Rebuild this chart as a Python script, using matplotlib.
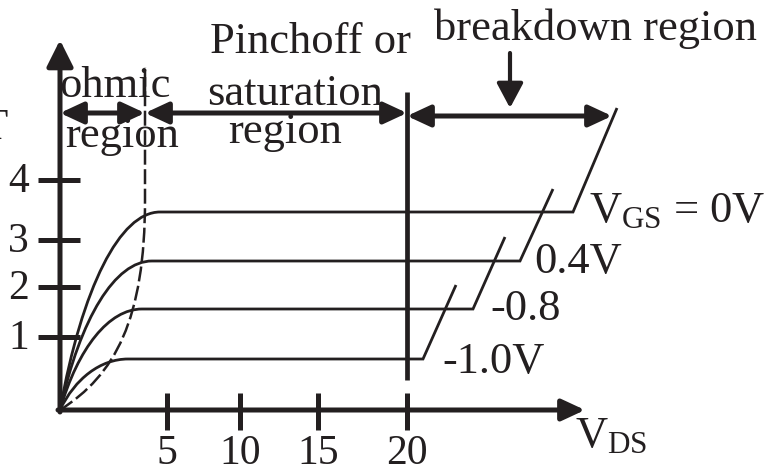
import matplotlib
matplotlib.use('Agg')
import matplotlib.pyplot as plt
from matplotlib.path import Path
from matplotlib.patches import PathPatch, FancyArrowPatch, ArrowStyle

plt.rcParams['font.family'] = 'Liberation Serif'
plt.rcParams['mathtext.fontset'] = 'custom'
plt.rcParams['mathtext.rm'] = 'Liberation Serif'
plt.rcParams['mathtext.it'] = 'Liberation Serif:italic'

INK = '#231f20'

# sketch units: origin of the I-V axes at (0, 0)
vds_ticks = [107, 180, 258, 347]
vds_labels = ['5', '10', '15', '20']
id_ticks = [73, 123, 170, 230]
id_labels = ['1', '2', '3', '4']

vgs_labels = [r'$\mathrm{V_{GS}}$ = 0V', '0.4V', '-0.8', '-1.0V']
sat_level = [198, 149, 101, 51]
knee_x = [100, 92, 82, 68]
breakdown_x = [513, 460, 413, 363]
breakdown_top = [(557, 302), (493, 221), (445, 173), (396, 125)]
label_pos = [(529, 188), (474, 137), (430, 90), (382, 37)]

pinchoff_x = 347
ohmic_edge = [(0, 0), (55, 35), (85, 90), (85, 210), (85, 343)]


def arrow(ax, p0, p1, style, hl, hw, lw):
    a = FancyArrowPatch(p0, p1, arrowstyle=ArrowStyle(style, head_length=hl, head_width=hw),
                        mutation_scale=1, shrinkA=0, shrinkB=0, lw=lw, color=INK)
    ax.add_patch(a)


fig = plt.figure(figsize=(7.76, 4.66), dpi=100)
ax = fig.add_axes([0, 0, 1, 1])
ax.set_xlim(-60, 716)
ax.set_ylim(-56, 410)
ax.axis('off')

# axes with arrow heads
arrow(ax, (0, -2), (0, 370), '-|>', 16, 8, 3.6)
arrow(ax, (-2, 0), (525, 0), '-|>', 14, 6.5, 3.6)

ax.vlines(vds_ticks, -20, 17, color=INK, lw=3.6)
ax.hlines(id_ticks, -22, 20, color=INK, lw=3.6)
for x, s in zip(vds_ticks, vds_labels):
    ax.text(x, -24, s, ha='center', va='top', fontsize=30, color=INK)
for y, s in zip(id_ticks, id_labels):
    ax.text(-31, y - 2, s, ha='right', va='center', fontsize=30, color=INK)

# drain curves: ohmic rise, flat saturation, breakdown
for lev, kx, bx, top, lab, lp in zip(sat_level, knee_x, breakdown_x, breakdown_top,
                                     vgs_labels, label_pos):
    verts = [(0, 0), (0.22 * kx, 0.62 * lev), (0.6 * kx, lev), (kx, lev),
             (bx, lev), top]
    codes = [Path.MOVETO, Path.CURVE4, Path.CURVE4, Path.CURVE4, Path.LINETO, Path.LINETO]
    ax.add_patch(PathPatch(Path(verts, codes), fill=False, lw=2.0, color=INK))
    ax.text(lp[0], lp[1], lab, ha='left', va='baseline', fontsize=32, color=INK)

# boundary of the ohmic region
codes = [Path.MOVETO, Path.CURVE4, Path.CURVE4, Path.CURVE4, Path.LINETO]
ax.add_patch(PathPatch(Path(ohmic_edge, codes), fill=False, lw=1.8, color=INK,
                       linestyle=(0, (6, 1.8))))

# pinch-off line
ax.vlines(pinchoff_x, 30, 318, color=INK, lw=3.4)

# region arrows
arrow(ax, (0, 297), (85, 297), '<|-|>', 14, 6.5, 3.6)
arrow(ax, (85, 297), (pinchoff_x, 297), '<|-|>', 14, 6.5, 3.6)
arrow(ax, (pinchoff_x, 294), (552, 294), '<|-|>', 14, 6.5, 3.6)
arrow(ax, (450, 357), (450, 302), '-|>', 15, 8, 3.0)

ax.text(250, 357, 'Pinchoff or', ha='center', va='baseline', fontsize=32, color=INK)
ax.text(535, 370, 'breakdown region', ha='center', va='baseline', fontsize=32, color=INK)
ax.text(55, 313, 'ohmic', ha='center', va='baseline', fontsize=32, color=INK)
ax.text(62, 263, 'region', ha='center', va='baseline', fontsize=32, color=INK)
ax.text(235, 305, 'saturation', ha='center', va='baseline', fontsize=32, color=INK)
ax.text(225, 267, 'region', ha='center', va='baseline', fontsize=32, color=INK)
ax.text(515, -37, r'$\mathrm{V_{DS}}$', ha='left', va='baseline', fontsize=32, color=INK)
ax.text(-53, 271, 'T', ha='right', va='baseline', fontsize=32, color=INK)

fig.savefig('out.png', dpi=100)
